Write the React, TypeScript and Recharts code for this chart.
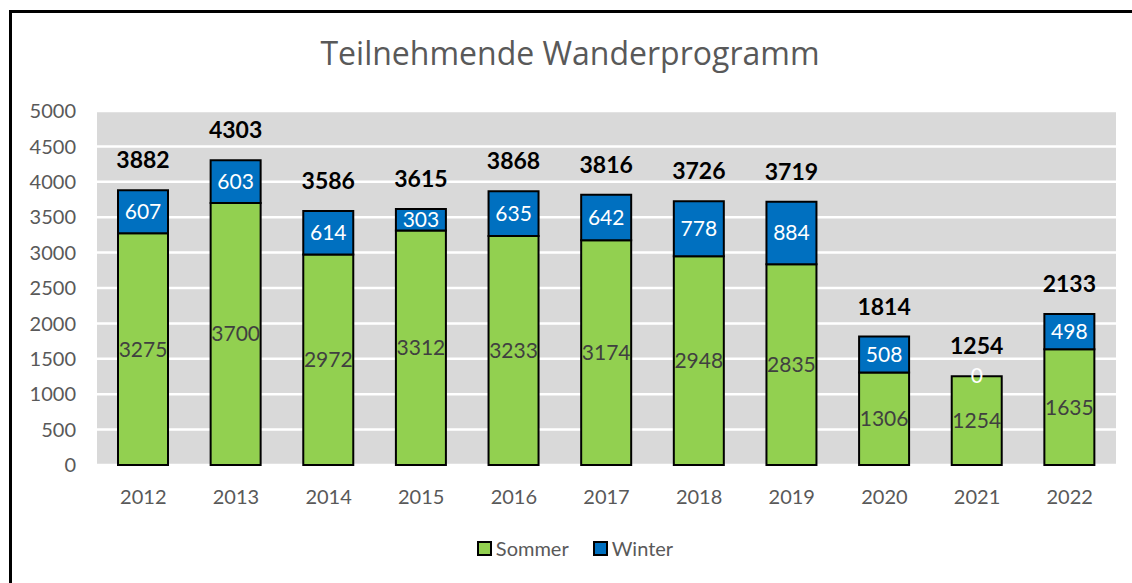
import React from "react";
import { BarChart, Bar, XAxis, YAxis, CartesianGrid, LabelList } from "recharts";

const years = ["2012", "2013", "2014", "2015", "2016", "2017", "2018", "2019", "2020", "2021", "2022"];
const sommer = [3275, 3700, 2972, 3312, 3233, 3174, 2948, 2835, 1306, 1254, 1635];
const winter = [607, 603, 614, 303, 635, 642, 778, 884, 508, 0, 498];
const totals = [3882, 4303, 3586, 3615, 3868, 3816, 3726, 3719, 1814, 1254, 2133];
const yTicks = [0, 500, 1000, 1500, 2000, 2500, 3000, 3500, 4000, 4500, 5000];

const data = years.map((y, i) => ({ year: y, Sommer: sommer[i], Winter: winter[i], total: totals[i] }));

const FONT = "Lato, 'Open Sans', sans-serif";

// Drawn from the Sommer bar geometry: the stack top is found by scaling the
// winter value with the same px-per-unit ratio as the Sommer bar.
const TopLabels = (props: any) => {
  const { x, y, width, height, index } = props;
  const s = sommer[index];
  const w = winter[index];
  const k = s ? height / s : 0;
  const stackTop = y - w * k;
  const cx = x + width / 2;
  return (
    <g>
      <text x={cx} y={stackTop - 22} textAnchor="middle" fontFamily={FONT} fontWeight="bold" fontSize={23} fill="#000">
        {totals[index]}
      </text>
      {w === 0 ? (
        <text x={cx} y={y + 7} textAnchor="middle" fontFamily={FONT} fontSize={21} fill="#ffffff">
          {w}
        </text>
      ) : null}
    </g>
  );
};

export default function App() {
  return (
    <div style={{ position: "absolute", left: 0, top: 0, width: 1132, height: 583, overflow: "hidden", background: "#fff" }}>
      <div
        style={{
          position: "absolute",
          left: 9,
          top: 10,
          width: 1123,
          height: 573,
          borderLeft: "3px solid #000",
          borderTop: "3px solid #000",
          boxSizing: "border-box",
        }}
      />
      <div
        style={{
          position: "absolute",
          left: 0,
          top: 33,
          width: 1140,
          textAlign: "center",
          fontFamily: "'Open Sans', sans-serif",
          fontSize: 32,
          color: "#595959",
          lineHeight: "40px",
        }}
      >
        Teilnehmende Wanderprogramm
      </div>
      <div style={{ position: "absolute", left: 0, top: 0 }}>
        <BarChart
          width={1132}
          height={583}
          data={data}
          margin={{ top: 111, right: 16, bottom: 88, left: 0 }}
          barSize={50}
        >
          <CartesianGrid vertical={false} fill="#d9d9d9" stroke="#ffffff" strokeWidth={2.5} />
          <XAxis
            dataKey="year"
            axisLine={false}
            tickLine={false}
            tickMargin={19}
            height={30}
            tick={{ fontFamily: FONT, fontSize: 20, fill: "#595959" }}
            interval={0}
          />
          <YAxis
            width={97}
            domain={[0, 5000]}
            ticks={yTicks}
            axisLine={false}
            tickLine={false}
            tickMargin={15}
            tick={{ fontFamily: FONT, fontSize: 20, fill: "#595959" }}
          />
          <Bar dataKey="Sommer" stackId="a" fill="#92d050" stroke="#000" strokeWidth={2} isAnimationActive={false}>
            <LabelList dataKey="Sommer" position="center" fill="#404040" fontFamily={FONT} fontSize={21} />
            <LabelList dataKey="total" content={<TopLabels />} />
          </Bar>
          <Bar dataKey="Winter" stackId="a" fill="#0070c0" stroke="#000" strokeWidth={2} isAnimationActive={false}>
            <LabelList dataKey="Winter" position="center" fill="#ffffff" fontFamily={FONT} fontSize={21} />
          </Bar>
        </BarChart>
      </div>
      <div
        style={{
          position: "absolute",
          left: 0,
          top: 535,
          width: 1150,
          display: "flex",
          justifyContent: "center",
          alignItems: "center",
          fontFamily: FONT,
          fontSize: 20,
          color: "#595959",
          lineHeight: "26px",
        }}
      >
        <span style={{ display: "inline-block", width: 11, height: 11, background: "#92d050", border: "2px solid #000", marginRight: 4 }} />
        <span style={{ marginRight: 24 }}>Sommer</span>
        <span style={{ display: "inline-block", width: 11, height: 11, background: "#0070c0", border: "2px solid #000", marginRight: 4 }} />
        <span>Winter</span>
      </div>
    </div>
  );
}
